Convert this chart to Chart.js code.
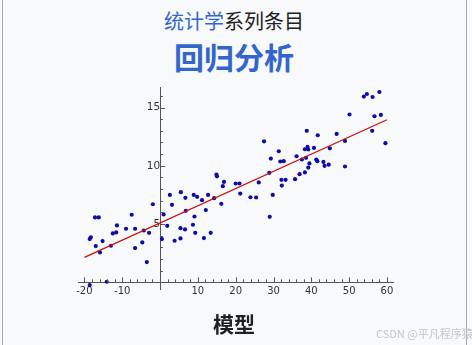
<!DOCTYPE html>
<html>
<head>
<meta charset="utf-8">
<script src="https://cdn.jsdelivr.net/npm/chart.js@4.4.0/dist/chart.umd.min.js"></script>
<style>
    body { margin: 0; background: #ffffff; }
    #page { position: relative; width: 472px; height: 345px; overflow: hidden; background: #f8f9fa; }
    .edge { position: absolute; top: 0; width: 1px; height: 345px; background: #a2a9b1; }
    .txt { position: absolute; left: 0; width: 468px; text-align: center; font-family: "Noto Sans CJK SC", sans-serif; white-space: nowrap; }
    #series { top: 9px; font-size: 20px; line-height: 24px; color: #202122; }
    #series span { color: #3366cc; }
    #name { top: 39px; font-size: 30px; line-height: 34px; font-weight: bold; color: #3366cc; }
    #model { top: 310px; font-size: 21px; line-height: 26px; font-weight: bold; color: #202122; }
    #mark { position: absolute; left: 376px; top: 325px; font-family: "Noto Sans CJK SC", sans-serif; font-size: 11px; color: #c3c6ca; white-space: nowrap; }
    #myChart { position: absolute; left: 0; top: 0; }
</style>
</head>
<body>
<div id="page">
    <div class="edge" style="left:2px"></div>
    <div class="edge" style="left:466px"></div>
    <div class="txt" id="series"><span>统计学</span>系列条目</div>
    <div class="txt" id="name">回归分析</div>
    <canvas id="myChart" width="472" height="345"></canvas>
    <div class="txt" id="model">模型</div>
    <div id="mark">CSDN @平凡程序猿~</div>
</div>
<script>
const xValues = [
    -1.9, -17.2, -16.2, -7.5, -11.4, -9.0, -6.6, -12.5, -11.6, -4.3, -2.9, -18.3, -18.6, -15.2, -17.0, -13.0, -4.7, -6.6, -15.9, -3.5, -18.6, -14.1,
    0.5, 14.9, 15.05, 16.9, 16.6, 20.0, 21.0, 21.2, 2.6, 5.5, 8.9, 9.8, 6.7, 12.7, 11.1, 14.3, 3.15, 16.2, 6.8, 12.1, 0.94, 9.1, 1.9, 8.7, 5.4, 6.6, 9.3, 13.4, 3.85, 5.4, 11.6,
    23.9, 25.4, 26.1, 27.5, 38.8, 41.7, 31.4, 29.3, 31.8, 32.7, 36.1, 38.3, 39.0, 39.2, 40.7, 38.6, 37.5, 41.3, 41.6, 39.5, 39.2, 36.9, 38.3, 35.7, 28.9, 32.1, 33.2, 32.2, 29.8, 29.0, 43.2, 43.5, 44.6, 44.9,
    53.9, 54.7, 56.2, 58.0, 50.1, 56.7, 58.4, 56.1, 46.7, 48.9, 59.6, 48.9
];
const yValues = [
    6.7, 5.57, 5.57, 5.8, 4.88, 4.6, 4.6, 4.2, 4.28, 4.45, 4.25, 3.86, 3.71, 3.54, 3.11, 3.14, 3.43, 2.94, 2.57, 1.74, -0.23, 0.05,
    3.71, 9.25, 9.1, 8.62, 8.25, 8.48, 8.48, 7.62, 7.5, 7.74, 7.5, 7.34, 7.25, 7.5, 7.05, 7.22, 6.65, 6.74, 6.14, 6.2, 5.83, 5.65, 4.85, 4.94, 4.65, 4.54, 4.25, 4.25, 3.57, 3.77, 3.8,
    7.3, 7.28, 8.57, 12.1, 13.0, 12.62, 11.25, 10.62, 10.37, 10.4, 10.82, 11.42, 11.62, 11.4, 11.53, 10.68, 10.54, 10.54, 10.4, 10.2, 9.85, 9.28, 9.43, 8.85, 9.4, 8.8, 8.8, 8.3, 7.5, 5.62, 10.33, 10.0, 10.1, 11.5,
    15.94, 16.16, 15.9, 16.33, 14.4, 14.25, 14.36, 13.0, 12.73, 12.13, 11.94, 9.94
];

// fitted regression line
const fitX = [-20, 60];
const fitY = [2.15, 13.95];

const xTickLabels = [-20, -10, 10, 20, 30, 40, 50, 60];
const yTickLabels = [5, 10, 15];

let points = [];
for (let i = 0; i < xValues.length; i += 1) {
    points.push({ x: xValues[i], y: yValues[i] });
}
let fitLine = [];
for (let i = 0; i < fitX.length; i += 1) {
    fitLine.push({ x: fitX[i], y: fitY[i] });
}

// sage-style tick marks pointing into the plot
const innerTicks = {
    id: 'innerTicks',
    afterDraw(chart) {
        const ctx = chart.ctx;
        const xs = chart.scales.x;
        const ys = chart.scales.y;
        const x0 = ys.left === undefined ? 0 : xs.getPixelForValue(0);
        const y0 = ys.getPixelForValue(0);
        ctx.save();
        ctx.strokeStyle = '#555';
        ctx.lineWidth = 1;
        ctx.beginPath();
        for (let v = -20; v <= 60; v += 2) {
            const px = Math.round(xs.getPixelForValue(v)) + 0.5;
            const len = v % 10 === 0 ? 5 : 3;
            ctx.moveTo(px, y0);
            ctx.lineTo(px, y0 - len);
        }
        for (let v = 1; v <= 16; v += 1) {
            const py = Math.round(ys.getPixelForValue(v)) + 0.5;
            const len = v % 5 === 0 ? 5 : 3;
            ctx.moveTo(x0, py);
            ctx.lineTo(x0 + len, py);
        }
        ctx.stroke();
        ctx.restore();
    }
};

const ctx = document.getElementById('myChart').getContext('2d');
const myChart = new Chart(ctx, {
    type: 'scatter',
    data: {
        datasets: [{
            type: 'line',
            data: fitLine,
            borderColor: '#cc1111',
            borderWidth: 1.3,
            pointRadius: 0,
            fill: false
        }, {
            data: points,
            backgroundColor: '#0c0ca8',
            borderColor: '#0c0ca8',
            pointRadius: 2.1,
            borderWidth: 0
        }]
    },
    options: {
        responsive: false,
        animation: false,
        layout: {
            padding: { left: 78, right: 79, top: 87, bottom: 56 }
        },
        plugins: {
            legend: { display: false },
            tooltip: { enabled: false }
        },
        scales: {
            x: {
                type: 'linear',
                min: -21.7,
                max: 61.6,
                position: { y: 0 },
                grid: { display: false, drawTicks: false },
                border: { color: '#555', width: 1 },
                afterBuildTicks: function (scale) {
                    scale.ticks = xTickLabels.map(v => ({ value: v }));
                },
                ticks: {
                    padding: 3,
                    color: '#333',
                    autoSkip: false,
                    maxRotation: 0,
                    font: { family: 'DejaVu Sans', size: 10 }
                }
            },
            y: {
                type: 'linear',
                min: -0.57,
                max: 16.76,
                position: { x: 0 },
                grid: { display: false, drawTicks: false },
                border: { color: '#555', width: 1 },
                afterBuildTicks: function (scale) {
                    scale.ticks = yTickLabels.map(v => ({ value: v }));
                },
                ticks: {
                    padding: 3,
                    color: '#333',
                    autoSkip: false,
                    font: { family: 'DejaVu Sans', size: 10.5 }
                }
            }
        }
    },
    plugins: [innerTicks]
});
</script>
</body>
</html>
